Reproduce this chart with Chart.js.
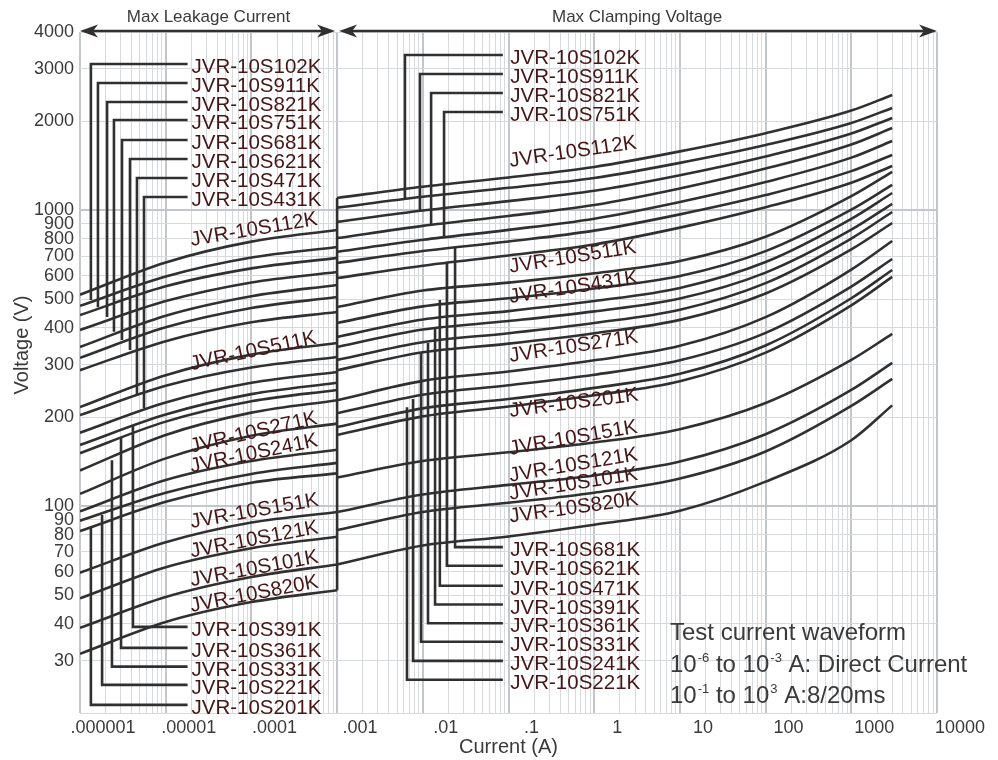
<!DOCTYPE html>
<html>
<head>
<meta charset="utf-8">
<script src="https://cdn.jsdelivr.net/npm/chart.js@4.4.1/dist/chart.umd.min.js"></script>
<style>
  html, body { margin: 0; padding: 0; background: #ffffff; }
  canvas { display: block; }
</style>
</head>
<body>
<canvas id="viChart" width="998" height="760"></canvas>
<script>
// ---- data ----
const partNames = ['JVR-10S112K', 'JVR-10S102K', 'JVR-10S911K', 'JVR-10S821K', 'JVR-10S751K', 'JVR-10S681K',
    'JVR-10S621K', 'JVR-10S511K', 'JVR-10S471K', 'JVR-10S431K', 'JVR-10S391K', 'JVR-10S361K', 'JVR-10S331K',
    'JVR-10S271K', 'JVR-10S241K', 'JVR-10S221K', 'JVR-10S201K', 'JVR-10S151K', 'JVR-10S121K', 'JVR-10S101K',
    'JVR-10S820K'];

// max leakage current region (A)
const leakCurrents = [1e-6, 1e-5, 1e-4, 1e-3];
const leakVolts = [
    [518, 666, 783, 857],
    [475, 597, 692, 751],
    [442, 553, 636, 690],
    [394, 493, 570, 618],
    [345, 440, 512, 559],
    [317, 402, 467, 509],
    [288, 361, 418, 453],
    [216, 277, 325, 356],
    [203, 255, 294, 319],
    [177, 224, 261, 284],
    [161, 204, 239, 261],
    [151, 193, 226, 247],
    [132, 174, 207, 228],
    [110, 145, 173, 190],
    [96, 122.5, 142, 155],
    [89.3, 111, 128.5, 140],
    [82.4, 103.4, 120, 129],
    [59.6, 75.5, 88, 95.5],
    [48.8, 62.2, 72.1, 78.8],
    [38.8, 49.3, 57.6, 63.5],
    [31.7, 40.6, 47.4, 52]
];

// max clamping voltage region (A)
const clampCurrents = [1e-3, 1e-2, 0.1, 1, 10, 100, 1000, 3000];
const clampVolts = [
    [1100, 1200, 1290, 1400, 1580, 1820, 2170, 2450],
    [1020, 1110, 1190, 1285, 1445, 1660, 1970, 2215],
    [913, 997, 1073, 1163, 1313, 1519, 1815, 2050],
    [805, 885, 956, 1041, 1184, 1382, 1667, 1895],
    [723, 794, 858, 936, 1066, 1245, 1505, 1714],
    [663, 728, 784, 853, 968, 1125, 1355, 1537],
    [590, 649, 703, 766, 873, 1023, 1238, 1411],
    [471, 535, 569, 612, 673, 813, 1115, 1347],
    [416, 473, 504, 544, 599, 727, 1004, 1217],
    [373, 427, 456, 493, 546, 668, 935, 1143],
    [345, 395, 422, 455, 503, 615, 859, 1050],
    [312, 358, 384, 416, 461, 567, 802, 986],
    [288, 331, 354, 384, 426, 523, 737, 905],
    [228, 265, 285, 311, 348, 435, 630, 787],
    [206, 238, 256, 278, 311, 385, 552, 684],
    [185, 214, 230, 251, 280, 349, 504, 628],
    [174, 201, 217, 237, 264, 330, 477, 595],
    [125, 142, 152, 164, 182, 223, 312, 382],
    [95.5, 109.5, 118, 127, 141.5, 175, 247, 305],
    [83, 95.6, 102.7, 111, 124, 153, 218, 269],
    [63.5, 73.6, 79, 86.5, 96.5, 121, 167, 219]
];

// divider between the two regions
const boundaryCurrent = 1e-3;
const boundaryVolts = [1100, 52];

// leader-line tags
const leftTagLineEnd = 1.8e-5;
const leftTagTextAt = 2e-5;
const rightTagLineEnd = 0.086;
const rightTagTextAt = 0.105;

const leftTopTags = ['JVR-10S102K', 'JVR-10S911K', 'JVR-10S821K', 'JVR-10S751K', 'JVR-10S681K', 'JVR-10S621K', 'JVR-10S471K', 'JVR-10S431K'];
const leftTopTagVolts = [3118, 2690, 2320, 2018, 1727, 1489, 1285, 1108];
const leftTopStemCurrents = [1.34e-6, 1.62e-6, 2.07e-6, 2.49e-6, 3.09e-6, 3.83e-6, 4.62e-6, 5.58e-6];
const leftTopStemEndVolts = [497, 470, 436, 388, 364, 337, 238, 214];

const leftLowTags = ['JVR-10S391K', 'JVR-10S361K', 'JVR-10S331K', 'JVR-10S221K', 'JVR-10S201K'];
const leftLowTagVolts = [39.1, 33.2, 28.7, 24.9, 21.3];
const leftLowStemCurrents = [4.15e-6, 3.01e-6, 2.36e-6, 1.81e-6, 1.34e-6];
const leftLowStemEndVolts = [188, 170, 143, 93.3, 85];

const rightTopTags = ['JVR-10S102K', 'JVR-10S911K', 'JVR-10S821K', 'JVR-10S751K'];
const rightTopTagVolts = [3345, 2885, 2489, 2147];
const rightTopStemCurrents = [6.19e-3, 9.27e-3, 1.25e-2, 1.77e-2];
const rightTopStemEndVolts = [1085, 1000, 890, 810];

const rightLowTags = ['JVR-10S681K', 'JVR-10S621K', 'JVR-10S471K', 'JVR-10S391K', 'JVR-10S361K', 'JVR-10S331K', 'JVR-10S241K', 'JVR-10S221K'];
const rightLowTagVolts = [72.7, 62.9, 53.8, 46.5, 40.2, 34.8, 30, 25.9];
const rightLowStemCurrents = [0.0238, 0.0191, 0.0158, 0.0139, 0.0115, 0.00953, 0.00769, 0.00654];
const rightLowStemEndVolts = [751, 669, 497, 397, 356, 329, 230, 216];

// tags written along the curves (baseline start, angle in degrees)
const leftCurveTags = ['JVR-10S112K', 'JVR-10S511K', 'JVR-10S271K', 'JVR-10S241K', 'JVR-10S151K', 'JVR-10S121K', 'JVR-10S101K', 'JVR-10S820K'];
const leftCurveTagVolts = [757, 288, 151.4, 130, 84.3, 67, 53.6, 43.9];
const leftCurveTagAngles = [9.5, 12, 13, 11.7, 10, 10.9, 10.5, 10.9];

const rightCurveTags = ['JVR-10S112K', 'JVR-10S511K', 'JVR-10S431K', 'JVR-10S271K', 'JVR-10S201K', 'JVR-10S151K', 'JVR-10S121K', 'JVR-10S101K', 'JVR-10S820K'];
const rightCurveTagVolts = [1400, 614, 486, 307, 200, 149, 121, 105, 88];
const rightCurveTagAngles = [8.3, 9, 8.6, 8.6, 7.3, 9.9, 9.5, 9, 7.8];

const currentTickLabels = ['.000001', '.00001', '.0001', '.001', '.01', '.1', '1', '10', '100', '1000', '10000'];

// ---- styles ----
const FONT = '"Liberation Sans", Arial, Helvetica, sans-serif';
const lineColor = '#303030';
const tagColor = '#461616';
const textColor = '#3a3a3a';
const gridMajor = '#c3c7cb';
const gridMinor = '#d7dadd';

function isDecade(v) {
    const l = Math.log10(v);
    return Math.abs(l - Math.round(l)) < 1e-6;
}

// keep only 1..9 x 10^n ticks (v4 also adds 1.5 x 10^n)
function wholeSignificand(v) {
    const e = Math.floor(Math.log10(v) + 1e-9);
    const s = v / Math.pow(10, e);
    return Math.abs(s - Math.round(s)) < 1e-6;
}

function curve(xs, ys) {
    return {
        data: xs.map((x, i) => ({ x: x, y: ys[i] })),
        borderColor: lineColor,
        borderWidth: 2.6,
        pointRadius: 0,
        cubicInterpolationMode: 'monotone',
        fill: false
    };
}

function leader(lineEnd, tagV, stemI, endV) {
    return {
        data: [{ x: lineEnd, y: tagV }, { x: stemI, y: tagV }, { x: stemI, y: endV }],
        borderColor: lineColor,
        borderWidth: 2.6,
        borderJoinStyle: 'miter',
        pointRadius: 0,
        tension: 0,
        fill: false
    };
}

const datasets = [];
partNames.forEach((p, i) => {
    datasets.push(curve(leakCurrents, leakVolts[i]));
    datasets.push(curve(clampCurrents, clampVolts[i]));
});
datasets.push(leader(boundaryCurrent, boundaryVolts[0], boundaryCurrent, boundaryVolts[1]));
leftTopTags.forEach((t, i) => datasets.push(leader(leftTagLineEnd, leftTopTagVolts[i], leftTopStemCurrents[i], leftTopStemEndVolts[i])));
leftLowTags.forEach((t, i) => datasets.push(leader(leftTagLineEnd, leftLowTagVolts[i], leftLowStemCurrents[i], leftLowStemEndVolts[i])));
rightTopTags.forEach((t, i) => datasets.push(leader(rightTagLineEnd, rightTopTagVolts[i], rightTopStemCurrents[i], rightTopStemEndVolts[i])));
rightLowTags.forEach((t, i) => datasets.push(leader(rightTagLineEnd, rightLowTagVolts[i], rightLowStemCurrents[i], rightLowStemEndVolts[i])));

function arrowHead(ctx, tipX, y, dir) {
    ctx.beginPath();
    ctx.moveTo(tipX, y);
    ctx.lineTo(tipX + dir * 18, y - 6.5);
    ctx.lineTo(tipX + dir * 13, y);
    ctx.lineTo(tipX + dir * 18, y + 6.5);
    ctx.closePath();
    ctx.fill();
}

function drawRich(ctx, parts, x, baseline) {
    parts.forEach(p => {
        if (p.sup) {
            ctx.font = '13px ' + FONT;
            ctx.fillText(p.t, x + 1, baseline - 10);
            x += ctx.measureText(p.t).width + 1;
        } else {
            ctx.font = '24px ' + FONT;
            ctx.fillText(p.t, x, baseline);
            x += ctx.measureText(p.t).width;
        }
    });
}

const annotations = {
    id: 'annotations',
    afterDatasetsDraw(chart) {
        const { ctx, chartArea } = chart;
        const xs = chart.scales.x, ys = chart.scales.y;
        ctx.save();

        // straight tags next to leader lines
        ctx.fillStyle = tagColor;
        ctx.font = '20.5px ' + FONT;
        ctx.textAlign = 'left';
        ctx.textBaseline = 'alphabetic';
        const flat = (tags, volts, at) => tags.forEach((t, i) =>
            ctx.fillText(t, xs.getPixelForValue(at), ys.getPixelForValue(volts[i]) + 9));
        flat(leftTopTags, leftTopTagVolts, leftTagTextAt);
        flat(leftLowTags, leftLowTagVolts, leftTagTextAt);
        flat(rightTopTags, rightTopTagVolts, rightTagTextAt);
        flat(rightLowTags, rightLowTagVolts, rightTagTextAt);

        // tags along curves
        const along = (tags, volts, angles, at) => tags.forEach((t, i) => {
            ctx.save();
            ctx.translate(xs.getPixelForValue(at), ys.getPixelForValue(volts[i]));
            ctx.rotate(-angles[i] * Math.PI / 180);
            ctx.fillText(t, 0, 0);
            ctx.restore();
        });
        along(leftCurveTags, leftCurveTagVolts, leftCurveTagAngles, leftTagTextAt);
        along(rightCurveTags, rightCurveTagVolts, rightCurveTagAngles, rightTagTextAt);

        // region arrows on top
        const yA = chartArea.top - 1;
        const x0 = xs.getPixelForValue(1e-6), x1 = xs.getPixelForValue(1e-3), x2 = xs.getPixelForValue(1e4);
        ctx.strokeStyle = lineColor;
        ctx.fillStyle = lineColor;
        ctx.lineWidth = 2.6;
        ctx.beginPath();
        ctx.moveTo(x0 + 10, yA); ctx.lineTo(x1 - 12, yA);
        ctx.moveTo(x1 + 12, yA); ctx.lineTo(x2 - 10, yA);
        ctx.stroke();
        arrowHead(ctx, x0, yA, 1);
        arrowHead(ctx, x1 - 2, yA, -1);
        arrowHead(ctx, x1 + 2, yA, 1);
        arrowHead(ctx, x2, yA, -1);

        ctx.fillStyle = textColor;
        ctx.font = '17px ' + FONT;
        ctx.textAlign = 'center';
        ctx.fillText('Max Leakage Current', (x0 + x1) / 2, 22);
        ctx.fillText('Max Clamping Voltage', (x1 + x2) / 2, 22);

        // y axis title
        ctx.save();
        ctx.translate(22, 345);
        ctx.rotate(-Math.PI / 2);
        ctx.font = '20px ' + FONT;
        ctx.textBaseline = 'middle';
        ctx.fillText('Voltage (V)', 0, 0);
        ctx.restore();

        // test waveform note
        ctx.textAlign = 'left';
        ctx.textBaseline = 'alphabetic';
        drawRich(ctx, [{ t: 'Test current waveform' }], 670, 640);
        drawRich(ctx, [{ t: '10' }, { t: '-6', sup: true }, { t: ' to 10' }, { t: '-3', sup: true }, { t: ' A: Direct Current' }], 670, 672);
        drawRich(ctx, [{ t: '10' }, { t: '-1', sup: true }, { t: ' to 10' }, { t: '3', sup: true }, { t: ' A:8/20ms' }], 670, 703);

        ctx.restore();
    }
};

const gridOpts = {
    drawTicks: false,
    color: c => (c.tick && isDecade(c.tick.value)) ? gridMajor : gridMinor,
    lineWidth: c => (c.tick && isDecade(c.tick.value)) ? 2 : 1
};

const trimTicks = s => { s.ticks = s.ticks.filter(t => wholeSignificand(t.value)); };

new Chart(document.getElementById('viChart'), {
    type: 'line',
    data: { datasets: datasets },
    options: {
        responsive: false,
        animation: false,
        events: [],
        layout: { padding: { top: 32, right: 61, left: 0, bottom: 0 } },
        plugins: {
            legend: { display: false },
            tooltip: { enabled: false }
        },
        scales: {
            x: {
                type: 'logarithmic',
                min: 1e-6,
                max: 1e4,
                afterBuildTicks: trimTicks,
                afterFit: s => { s.height = 47; },
                border: { display: false },
                grid: gridOpts,
                ticks: {
                    autoSkip: false,
                    maxRotation: 0,
                    padding: 4,
                    labelOffset: 23,
                    color: textColor,
                    font: { family: FONT, size: 18 },
                    callback: v => isDecade(v) ? currentTickLabels[Math.round(Math.log10(v)) + 6] : ''
                },
                title: {
                    display: true,
                    text: 'Current (A)',
                    color: textColor,
                    font: { family: FONT, size: 20 },
                    padding: { top: 0, bottom: 1 }
                }
            },
            y: {
                type: 'logarithmic',
                min: 20,
                max: 4000,
                afterBuildTicks: trimTicks,
                afterFit: s => { s.width = 80; },
                border: { display: false },
                grid: gridOpts,
                ticks: {
                    autoSkip: false,
                    padding: 6,
                    color: textColor,
                    font: { family: FONT, size: 18 },
                    callback: v => Math.round(v) === 20 ? '' : String(Math.round(v))
                }
            }
        }
    },
    plugins: [annotations]
});
</script>
</body>
</html>
